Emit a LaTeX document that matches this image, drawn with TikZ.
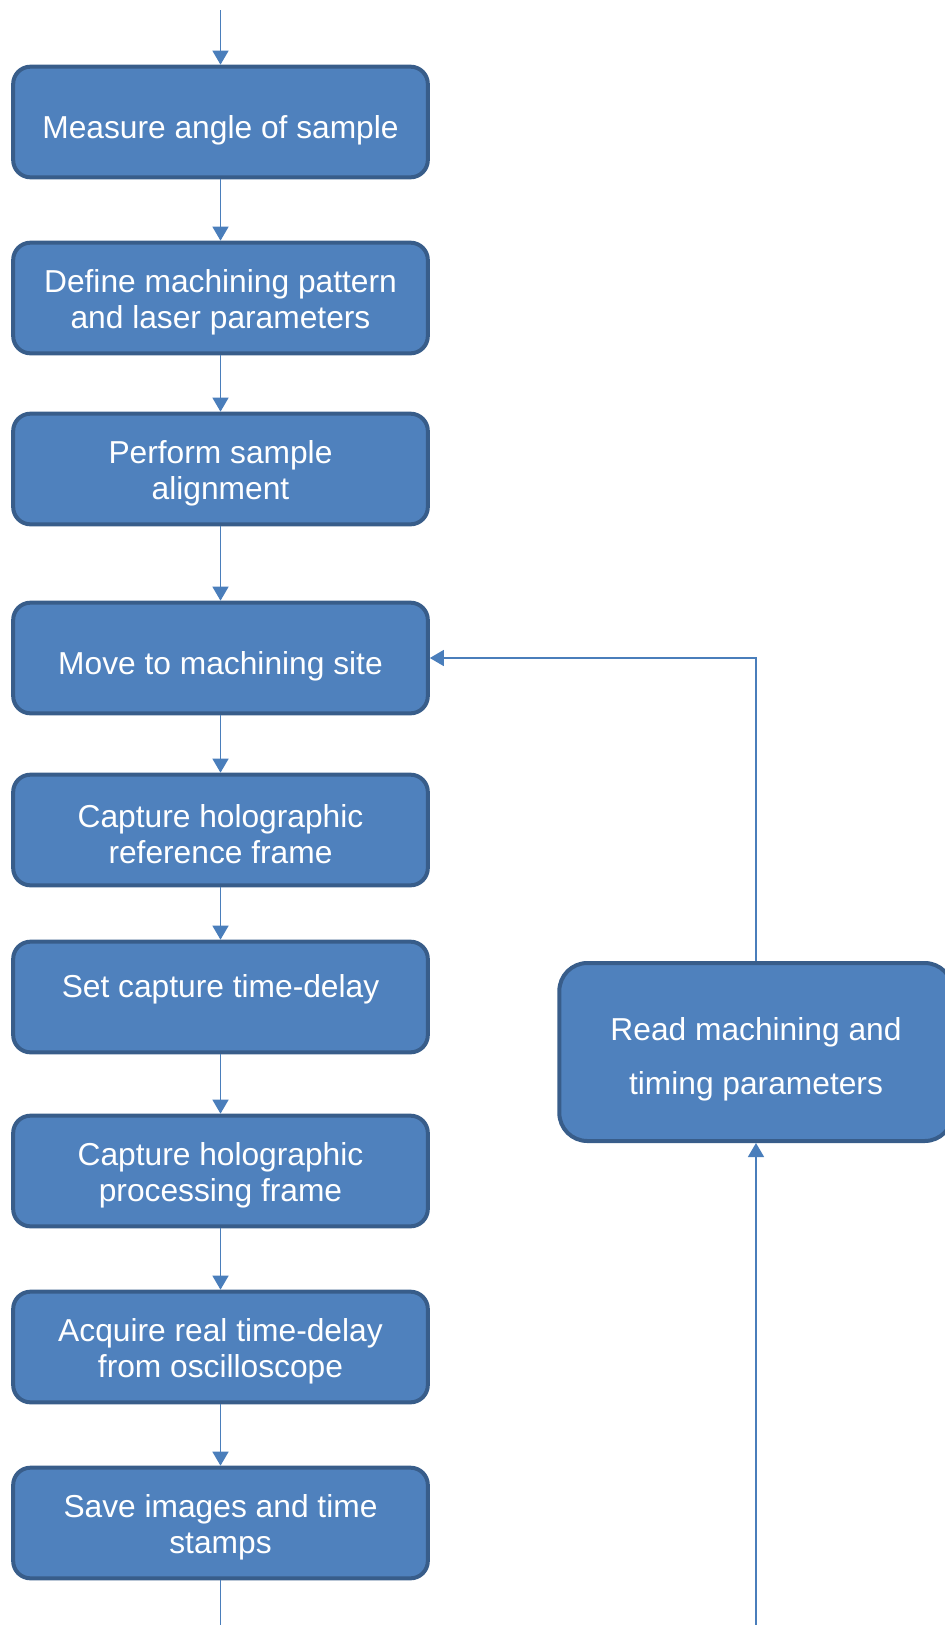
\documentclass[tikz,border=0pt]{standalone}
\usepackage{fontspec}
\setmainfont{Liberation Sans}
\usetikzlibrary{arrows.meta}
\definecolor{stepfill}{HTML}{4F81BD}
\definecolor{stepborder}{HTML}{385D8A}
\definecolor{flowline}{HTML}{4A7EBB}
% strut for the first line of a two-line label
\newcommand{\capline}[1][23.6pt]{\rule{0pt}{#1}}

\begin{document}
\begin{tikzpicture}[
    x=0.75pt, y=-0.75pt,
    >={Triangle[width=12pt, length=10.5pt]},
    stepbox/.style={
        draw=stepborder, fill=stepfill, line width=3pt,
        rounded corners=13pt, minimum width=311pt, minimum height=83pt,
        align=center, text=white, inner sep=0pt,
        font=\fontsize{23.8}{27.3}\selectfont,
        execute at begin node={\rule{0pt}{30pt}}
    },
    readbox/.style={
        stepbox, rounded corners=21pt, minimum width=295pt,
        minimum height=133.5pt, font=\fontsize{23.8}{41}\selectfont
    },
    flow/.style={->, draw=flowline, line width=1.1pt},
]
\useasboundingbox (0,0) rectangle (945,1625);
\clip (0,0) rectangle (945,1625);

% Main column of steps
\node[stepbox] (measure)   at (220.5, 122)  {Measure angle of sample};
\node[stepbox] (define)    at (220.5, 298)  {\capline Define machining pattern\\and laser parameters};
\node[stepbox] (align)     at (220.5, 469)  {\capline Perform sample\\alignment};
\node[stepbox] (move)      at (220.5, 658)  {Move to machining site};
\node[stepbox] (refframe)  at (220.5, 830)  {\capline Capture holographic\\reference frame};
\node[stepbox] (setdelay)  at (220.5, 997)
    {\raisebox{12pt}[\height][\depth]{Set capture time-delay}};
\node[stepbox] (procframe) at (220.5, 1171) {\capline Capture holographic\\processing frame};
\node[stepbox] (acquire)   at (220.5, 1347) {\capline Acquire real time-delay\\from oscilloscope};
\node[stepbox] (save)      at (220.5, 1523) {\capline Save images and time\\stamps};

% Loop-back step on the right
\node[readbox] (read) at (756, 1052) {\capline[28.2pt]Read machining and\\timing parameters};

% Loose ends at the page edges
\coordinate (entry)    at (220.5, 10);
\coordinate (exitL)    at (220.5, 1625);
\coordinate (returnR)  at (756, 1625);

% Arrows down the column
\draw[flow] (entry) -- (measure);
\draw[flow] (measure) -- (define);
\draw[flow] (define) -- (align);
\draw[flow] (align) -- (move);
\draw[flow] (move) -- (refframe);
\draw[flow] (refframe) -- (setdelay);
\draw[flow] (setdelay) -- (procframe);
\draw[flow] (procframe) -- (acquire);
\draw[flow] (acquire) -- (save);
\draw[draw=flowline, line width=1.1pt] (save) -- (exitL);

% Loop back to the next site
\draw[flow] (returnR) -- (read);
\draw[flow] (read.north) |- (move.east);

\end{tikzpicture}
\end{document}
